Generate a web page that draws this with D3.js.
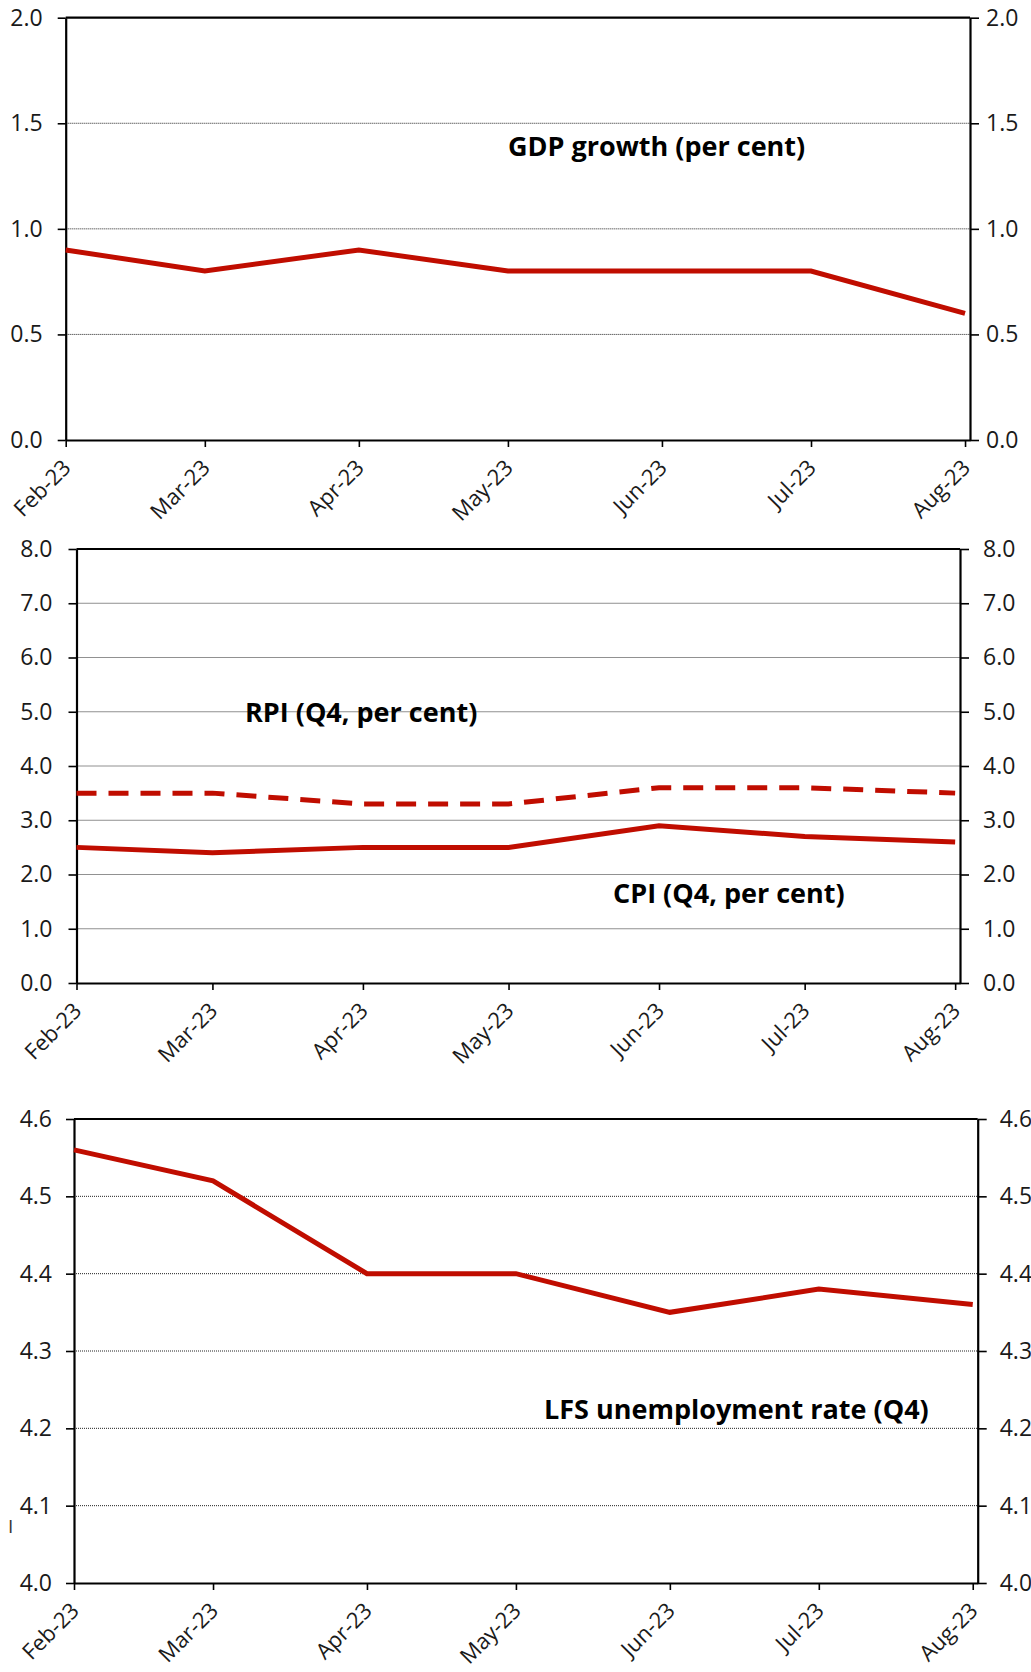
<!DOCTYPE html>
<html>
<head>
<meta charset="utf-8">
<script src="https://cdn.jsdelivr.net/npm/d3@7"></script>
<style>
  html, body { margin: 0; padding: 0; background: #fff; }
  svg { display: block; }
</style>
</head>
<body>
<script>
// ---- data ----
const months = ["Feb-23", "Mar-23", "Apr-23", "May-23", "Jun-23", "Jul-23", "Aug-23"];
const gdpGrowth = [0.9, 0.8, 0.9, 0.8, 0.8, 0.8, 0.6];
const rpiQ4 = [3.5, 3.5, 3.3, 3.3, 3.6, 3.6, 3.5];
const cpiQ4 = [2.5, 2.4, 2.5, 2.5, 2.9, 2.7, 2.6];
const lfsUnemployment = [4.56, 4.52, 4.40, 4.40, 4.35, 4.38, 4.36];
const gdpTicks = [0.0, 0.5, 1.0, 1.5, 2.0];
const inflationTicks = [0, 1, 2, 3, 4, 5, 6, 7, 8];
const lfsTicks = [4.0, 4.1, 4.2, 4.3, 4.4, 4.5, 4.6];
const gdpTitle = "GDP growth (per cent)";
const rpiTitle = "RPI (Q4, per cent)";
const cpiTitle = "CPI (Q4, per cent)";
const lfsTitle = "LFS unemployment rate (Q4)";

const parseMonth = d3.timeParse("%b-%y");
const monthDates = months.map(parseMonth);
const xStart = parseMonth("Feb-23");
const xEnd = new Date(2023, 7, 2);

const W = 1031, H = 1672;
const RED = "#c00d00";
const FONT = "'Open Sans', 'Noto Sans', sans-serif";

const svg = d3.select("body").append("svg")
  .attr("width", W).attr("height", H)
  .style("font-family", FONT);

function panel(cfg) {
  const x = d3.scaleTime().domain([xStart, xEnd]).range([cfg.left, cfg.right]);
  const y = d3.scaleLinear().domain(cfg.domain).range([cfg.bottom, cfg.top]);
  const g = svg.append("g");

  // gridlines
  g.append("g").selectAll("line")
    .data(cfg.ticks.filter(t => t !== cfg.domain[0] && t !== cfg.domain[1]))
    .join("line")
    .attr("x1", cfg.left).attr("x2", cfg.right)
    .attr("y1", d => y(d)).attr("y2", d => y(d))
    .attr("stroke", "#222").attr("stroke-width", 1)
    .attr("stroke-dasharray", "1,1");

  // top border
  g.append("line")
    .attr("x1", cfg.left).attr("x2", cfg.right)
    .attr("y1", y(cfg.domain[1])).attr("y2", y(cfg.domain[1]))
    .attr("stroke", "#000").attr("stroke-width", 2.2);

  const fmt = d3.format(".1f");
  const styleAxis = a => {
    a.select(".domain").attr("stroke", "#000").attr("stroke-width", 2.2);
    a.selectAll(".tick line").attr("stroke", "#000").attr("stroke-width", 1.6);
    a.selectAll(".tick text").attr("fill", "#1a1a1a")
      .style("font-size", "23px").style("font-family", FONT);
  };

  const la = g.append("g").attr("transform", `translate(${cfg.left},0)`)
    .call(d3.axisLeft(y).tickValues(cfg.ticks).tickFormat(fmt)
      .tickSize(8).tickSizeOuter(0).tickPadding(cfg.padL));
  styleAxis(la);

  const ra = g.append("g").attr("transform", `translate(${cfg.right},0)`)
    .call(d3.axisRight(y).tickValues(cfg.ticks).tickFormat(fmt)
      .tickSize(9).tickSizeOuter(0).tickPadding(cfg.padR));
  styleAxis(ra);
  ra.selectAll(".tick text").attr("text-anchor", "start");

  const ba = g.append("g").attr("transform", `translate(0,${cfg.bottom})`)
    .call(d3.axisBottom(x).tickValues(monthDates)
      .tickFormat((d, i) => months[i]).tickSize(7).tickSizeOuter(0));
  styleAxis(ba);
  ba.selectAll(".tick text")
    .style("font-size", "22px")
    .attr("x", 0).attr("y", 0).attr("dy", 0)
    .attr("text-anchor", "end")
    .attr("transform", "translate(6,29) rotate(-45)");

  // series lines
  const line = d3.line()
    .x((d, i) => x(monthDates[i]))
    .y(d => y(d));
  cfg.series.forEach(s => {
    g.append("path").datum(s.values)
      .attr("d", line)
      .attr("fill", "none")
      .attr("stroke", RED)
      .attr("stroke-width", 5)
      .attr("stroke-linejoin", "miter")
      .attr("stroke-dasharray", s.dash || null);
  });

  // titles
  cfg.labels.forEach(l => {
    g.append("text")
      .attr("x", l.x).attr("y", l.y)
      .attr("dominant-baseline", "central")
      .style("font-size", "27px").style("font-weight", "700")
      .attr("fill", "#000")
      .text(l.text);
  });
}

panel({
  left: 65.7, right: 970, top: 17.7, bottom: 440,
  domain: [0, 2], ticks: gdpTicks, padL: 15, padR: 7,
  series: [{ values: gdpGrowth }],
  labels: [{ text: gdpTitle, x: 508, y: 145 }]
});

panel({
  left: 76.5, right: 960, top: 549, bottom: 983,
  domain: [0, 8], ticks: inflationTicks, padL: 16, padR: 14,
  series: [{ values: rpiQ4, dash: "20,12" }, { values: cpiQ4 }],
  labels: [{ text: rpiTitle, x: 245, y: 711 }, { text: cpiTitle, x: 613, y: 892 }]
});

panel({
  left: 74, right: 977.7, top: 1119, bottom: 1583,
  domain: [4.0, 4.6], ticks: lfsTicks, padL: 14, padR: 13,
  series: [{ values: lfsUnemployment }],
  labels: [{ text: lfsTitle, x: 544, y: 1408 }]
});

// stray mark at the left edge of the lower panel
svg.append("text")
  .attr("x", 8).attr("y", 1533)
  .style("font-size", "19px").attr("fill", "#333")
  .text("I");
</script>
</body>
</html>
